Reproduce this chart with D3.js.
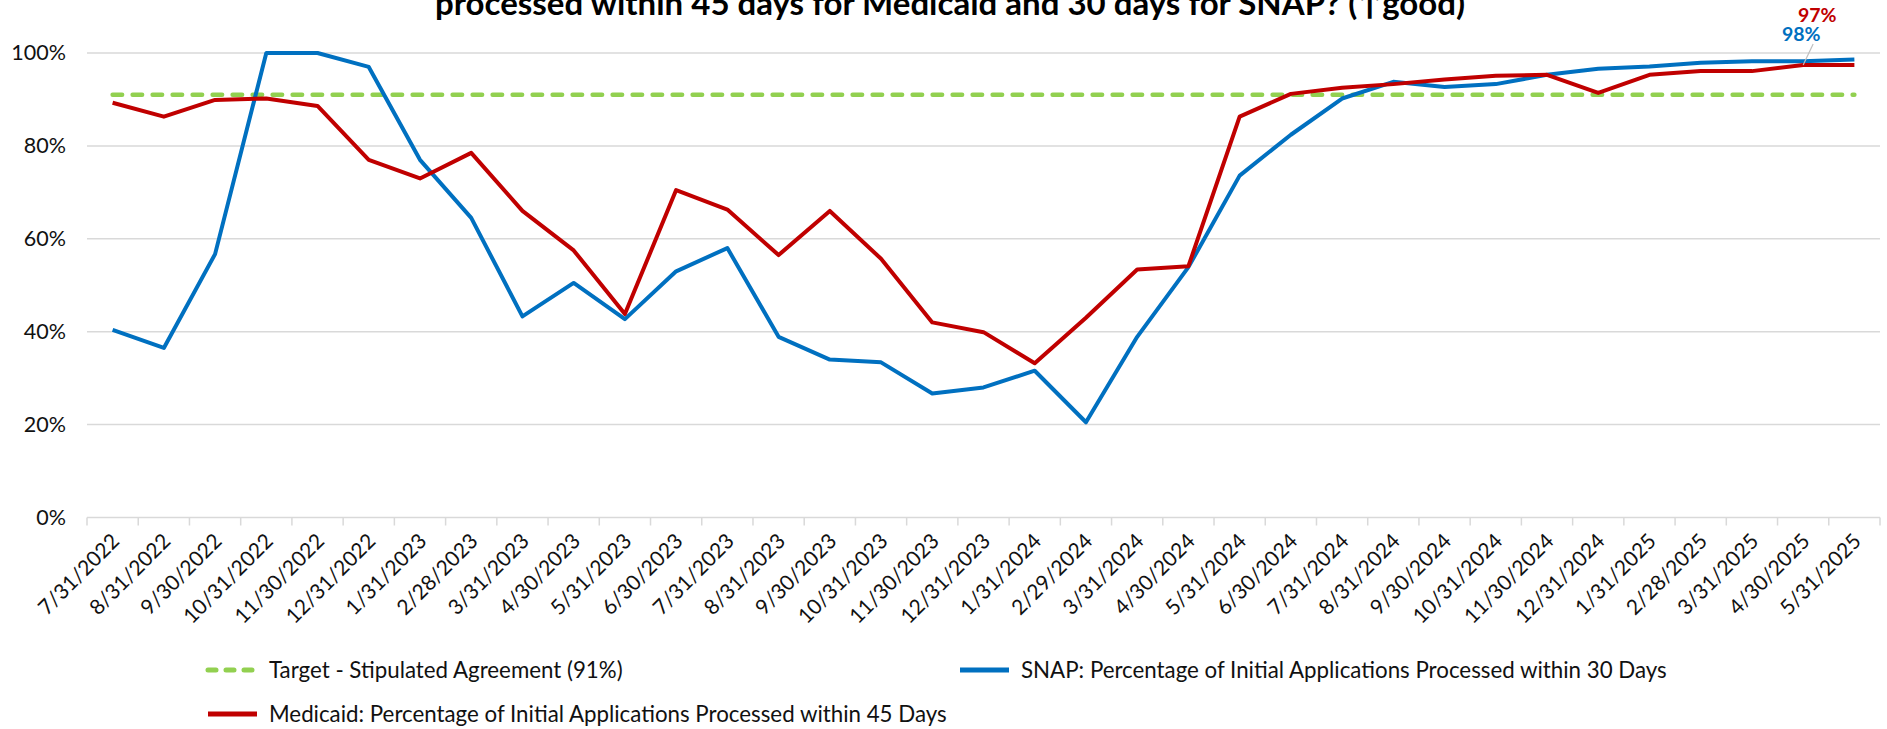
<!DOCTYPE html>
<html>
<head>
<meta charset="utf-8">
<script src="https://cdn.jsdelivr.net/npm/d3@7"></script>
<style>
  html, body { margin: 0; padding: 0; background: #fff; }
  svg { display: block; font-family: Lato, "Open Sans", sans-serif; }
</style>
</head>
<body>
<svg id="chart" width="1887" height="729"></svg>
<script>
const categories = ["7/31/2022","8/31/2022","9/30/2022","10/31/2022","11/30/2022","12/31/2022",
  "1/31/2023","2/28/2023","3/31/2023","4/30/2023","5/31/2023","6/30/2023","7/31/2023","8/31/2023",
  "9/30/2023","10/31/2023","11/30/2023","12/31/2023","1/31/2024","2/29/2024","3/31/2024","4/30/2024",
  "5/31/2024","6/30/2024","7/31/2024","8/31/2024","9/30/2024","10/31/2024","11/30/2024","12/31/2024",
  "1/31/2025","2/28/2025","3/31/2025","4/30/2025","5/31/2025"];
const snapValues = [40.4,36.5,56.7,100,100,97,77,64.5,43.3,50.5,42.7,53,58,38.9,34,33.4,26.7,28,31.6,20.5,
  38.9,53.9,73.6,82.4,90.2,93.8,92.7,93.3,95.3,96.6,97.1,97.9,98.2,98.2,98.6];
const medicaidValues = [89.3,86.3,89.9,90.2,88.6,77,73,78.5,66,57.5,43.8,70.5,66.3,56.5,66,55.7,42,39.9,33.2,43,
  53.4,54.1,86.3,91.2,92.5,93.3,94.3,95.1,95.3,91.4,95.3,96.1,96.1,97.4,97.4];
const targetValue = 91;
const yTicks = [0,20,40,60,80,100];
const titleText = "processed within 45 days for Medicaid and 30 days for SNAP? (\u2191good)";
const legendLabels = {
  target: "Target - Stipulated Agreement (91%)",
  snap: "SNAP: Percentage of Initial Applications Processed within 30 Days",
  medicaid: "Medicaid: Percentage of Initial Applications Processed within 45 Days"
};
const endLabels = { medicaid: "97%", snap: "98%" };

const colors = { snap: "#0070C0", medicaid: "#C00000", target: "#92D050", grid: "#D9D9D9", text: "#000" };

const svg = d3.select("#chart");
const mLeft = 87, mRight = 1880, mTop = 53, mBottom = 517.5;

const x = d3.scaleBand().domain(categories).range([mLeft, mRight]);
const xc = d => x(d) + x.bandwidth() / 2;
const y = d3.scaleLinear().domain([0, 100]).range([mBottom, mTop]);

// title
svg.append("text").attr("x", 950).attr("y", 15).attr("text-anchor", "middle")
  .attr("font-weight", "bold").attr("font-size", 33).attr("fill", "#000").text(titleText);

// gridlines
svg.append("g").selectAll("line").data(yTicks).join("line")
  .attr("x1", mLeft).attr("x2", mRight).attr("y1", d => y(d)).attr("y2", d => y(d))
  .attr("stroke", colors.grid).attr("stroke-width", 1.5);

// y axis labels
const yAxis = d3.axisLeft(y).tickValues(yTicks).tickFormat(d => d + "%").tickSize(0).tickPadding(21);
const yg = svg.append("g").attr("transform", `translate(${mLeft},0)`).call(yAxis);
yg.select(".domain").remove();
yg.selectAll("text").attr("font-size", 21.5).attr("fill", "#111").attr("font-family", "Lato, sans-serif");

// x axis
const xAxis = d3.axisBottom(x).tickSize(0).tickPadding(0);
const xg = svg.append("g").attr("transform", `translate(0,${mBottom})`).call(xAxis);
xg.select(".domain").remove();
xg.selectAll(".tick text")
  .attr("font-size", 21).attr("fill", "#111").attr("font-family", "Lato, sans-serif")
  .attr("text-anchor", "end").attr("dy", null).attr("y", 0)
  .attr("transform", "translate(8,25) rotate(-45)");
// boundary tick marks
const bounds = categories.map(c => x(c)).concat([mRight]);
svg.append("g").selectAll("line").data(bounds).join("line")
  .attr("x1", d => d).attr("x2", d => d).attr("y1", mBottom).attr("y2", mBottom + 8)
  .attr("stroke", colors.grid).attr("stroke-width", 1.5);

// target line
svg.append("line")
  .attr("x1", xc(categories[0])).attr("x2", xc(categories[categories.length - 1]))
  .attr("y1", y(targetValue)).attr("y2", y(targetValue))
  .attr("stroke", colors.target).attr("stroke-width", 4.5)
  .attr("stroke-dasharray", "9.5 10.5").attr("stroke-linecap", "round");

const line = d3.line().x((d, i) => xc(categories[i])).y(d => y(d));

svg.append("path").datum(snapValues).attr("d", line)
  .attr("fill", "none").attr("stroke", colors.snap).attr("stroke-width", 4).attr("stroke-linejoin", "round");
svg.append("path").datum(medicaidValues).attr("d", line)
  .attr("fill", "none").attr("stroke", colors.medicaid).attr("stroke-width", 4).attr("stroke-linejoin", "round");

// end labels with leader line
const li = categories.length - 2;
svg.append("line").attr("x1", xc(categories[li]) + 10).attr("y1", 44)
  .attr("x2", xc(categories[li])).attr("y2", y(medicaidValues[li]))
  .attr("stroke", "#BFBFBF").attr("stroke-width", 1.2);
svg.append("text").attr("x", 1798).attr("y", 22).attr("font-size", 19.5).attr("font-weight", "bold")
  .attr("fill", colors.medicaid).text(endLabels.medicaid);
svg.append("text").attr("x", 1782).attr("y", 41).attr("font-size", 19.5).attr("font-weight", "bold")
  .attr("fill", colors.snap).text(endLabels.snap);

// legend
const lg = svg.append("g").attr("font-size", 22.3).attr("fill", "#111");
function legendItem(xs, yy, color, dashed, label) {
  lg.append("line").attr("x1", xs + 3).attr("x2", xs + 52).attr("y1", yy).attr("y2", yy)
    .attr("stroke", color).attr("stroke-width", 5)
    .attr("stroke-dasharray", dashed ? "8 10" : null)
    .attr("stroke-linecap", dashed ? "round" : "butt");
  lg.append("text").attr("x", xs + 64).attr("y", yy).attr("dy", "0.35em").text(label);
}
legendItem(205, 670, colors.target, true, legendLabels.target);
legendItem(957, 670, colors.snap, false, legendLabels.snap);
legendItem(205, 714, colors.medicaid, false, legendLabels.medicaid);
</script>
</body>
</html>
